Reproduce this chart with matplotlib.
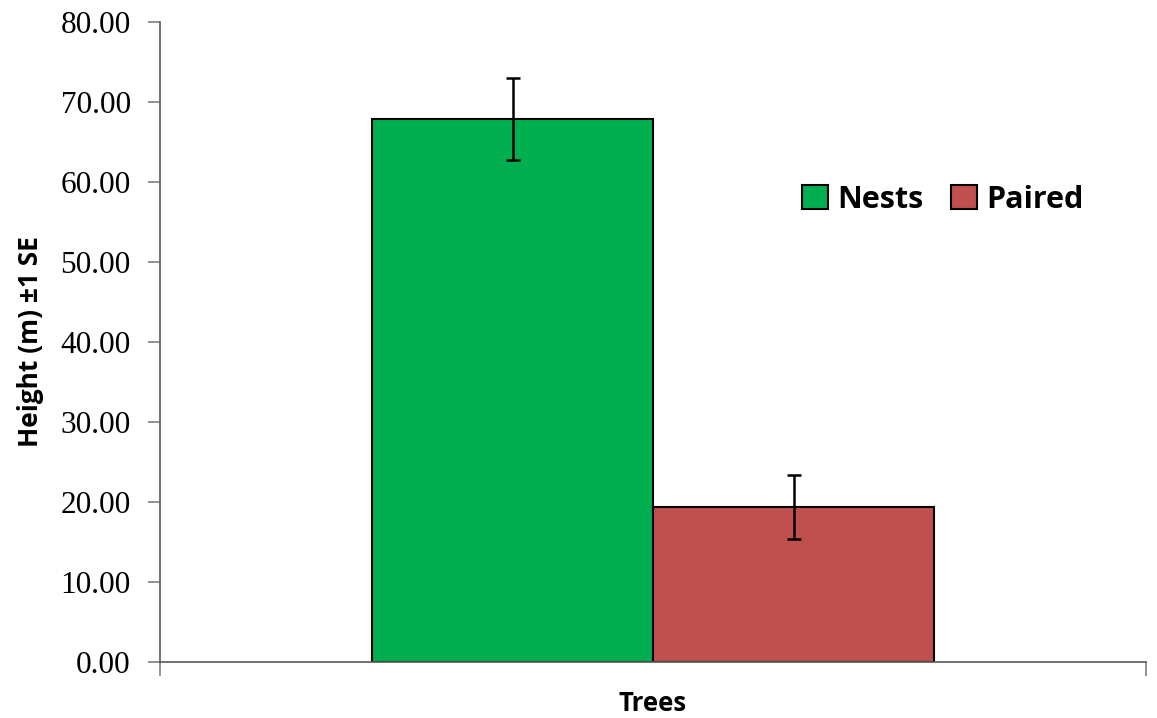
import numpy as np
from matplotlib import pyplot as plt

categories = ["Trees"]
nests = [67.9]
nests_se = [5.1]
paired = [19.4]
paired_se = [4.0]
yticks = np.arange(0, 81, 10)

fig = plt.figure(figsize=(11.57, 7.18), dpi=100)
ax = fig.add_axes([0.1383, 0.078, 0.8522, 0.8914])

x = np.arange(len(categories))
w = 0.285
ax.bar(x - w/2, nests, w, yerr=nests_se, color="#00B050", edgecolor="black",
       linewidth=1.5, label="Nests",
       error_kw=dict(ecolor="black", elinewidth=1.8, capsize=5, capthick=1.8))
ax.bar(x + w/2, paired, w, yerr=paired_se, color="#C0504D", edgecolor="black",
       linewidth=1.5, label="Paired",
       error_kw=dict(ecolor="black", elinewidth=1.8, capsize=5, capthick=1.8))

ax.set_xlim(-0.5, 0.5)
ax.set_ylim(0, 80)
ax.set_yticks(yticks)
ax.set_yticklabels(["%.2f" % v for v in yticks], fontfamily="Liberation Serif", fontsize=22.5)
ax.set_xticks(x)
ax.set_xticklabels(categories, fontfamily="Open Sans", fontweight="bold", fontsize=18.5)
ax.tick_params(axis="x", which="major", length=0, pad=20)
ax.set_xticks([-0.5, 0.5], minor=True)
ax.tick_params(axis="x", which="minor", length=10, width=1.2, color="#7f7f7f", direction="out")
ax.tick_params(axis="y", length=9, width=1.2, color="#7f7f7f", direction="out", pad=12)

for s in ["top", "right"]:
    ax.spines[s].set_visible(False)
for s in ["left", "bottom"]:
    ax.spines[s].set_color("#595959")
    ax.spines[s].set_linewidth(1.2)

ax.set_ylabel("Height (m) ±1 SE", fontfamily="Open Sans", fontweight="bold", fontsize=19, labelpad=12)

fig.legend(loc="center", bbox_to_anchor=(0.815, 0.722), ncol=2, frameon=False,
           prop=dict(family="Open Sans", weight="bold", size=22),
           handlelength=0.85, handleheight=0.85, handletextpad=0.3, columnspacing=0.9)

fig.savefig("out.png", dpi=100)
